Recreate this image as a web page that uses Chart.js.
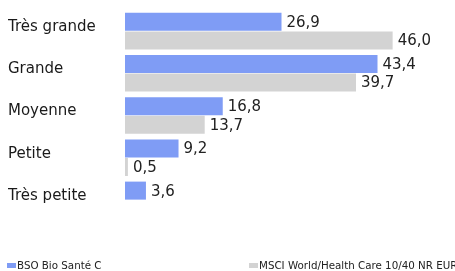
<!DOCTYPE html>
<html>
<head>
<meta charset="utf-8">
<script src="https://cdn.jsdelivr.net/npm/chart.js@4/dist/chart.umd.min.js"></script>
<style>
html,body{margin:0;padding:0;background:#fff;}
#wrap{position:relative;width:455px;height:271px;overflow:hidden;}
canvas{position:absolute;left:0;top:0;}
.leg{position:absolute;top:259px;font-family:"DejaVu Sans",Verdana,sans-serif;font-size:10.3px;color:#222;white-space:nowrap;line-height:12px;}
.leg i{display:inline-block;width:9px;height:5px;margin-right:1px;vertical-align:1px;}
</style>
</head>
<body>
<div id="wrap">
<canvas id="c" width="455" height="271"></canvas>
<div class="leg" style="left:7px"><i style="background:#7F9CF5"></i>BSO Bio Santé C</div>
<div class="leg" style="left:249px"><i style="background:#D3D3D3"></i>MSCI World/Health Care 10/40 NR EUR</div>
</div>
<script>
const categories = ["Très grande", "Grande", "Moyenne", "Petite", "Très petite"];
const fundValues = [26.9, 43.4, 16.8, 9.2, 3.6];
const indexValues = [46.0, 39.7, 13.7, 0.5, null];
const seriesNames = ["BSO Bio Santé C", "MSCI World/Health Care 10/40 NR EUR"];

const valueLabels = {
  id: 'valueLabels',
  afterDatasetsDraw(chart) {
    const ctx = chart.ctx;
    ctx.save();
    ctx.font = '15px "DejaVu Sans", Verdana, sans-serif';
    ctx.fillStyle = '#222';
    ctx.textAlign = 'left';
    ctx.textBaseline = 'middle';
    chart.data.datasets.forEach((ds, di) => {
      const meta = chart.getDatasetMeta(di);
      meta.data.forEach((el, i) => {
        const v = ds.data[i];
        if (v === null || v === undefined) return;
        ctx.fillText(v.toFixed(1).replace('.', ','), el.x + 5, el.y + 1);
      });
    });
    ctx.restore();
  }
};

new Chart(document.getElementById('c'), {
  type: 'bar',
  data: {
    labels: categories,
    datasets: [
      { label: seriesNames[0], data: fundValues, backgroundColor: '#7F9CF5', categoryPercentage: 0.88, barPercentage: 0.97 },
      { label: seriesNames[1], data: indexValues, backgroundColor: '#D3D3D3', categoryPercentage: 0.88, barPercentage: 0.97 }
    ]
  },
  options: {
    indexAxis: 'y',
    responsive: false,
    animation: false,
    layout: { padding: { left: 8, right: 10, top: 10, bottom: 50 } },
    plugins: { legend: { display: false }, tooltip: { enabled: false } },
    scales: {
      x: { display: false, min: 0, max: 55 },
      y: {
        grid: { display: false, drawTicks: false },
        border: { display: false },
        afterFit(s) { s.width = 117; },
        ticks: {
          crossAlign: 'far',
          padding: 0,
          labelOffset: -4,
          color: '#1a1a1a',
          font: { family: '"DejaVu Sans", Verdana, sans-serif', size: 15 }
        }
      }
    }
  },
  plugins: [valueLabels]
});
</script>
</body>
</html>
